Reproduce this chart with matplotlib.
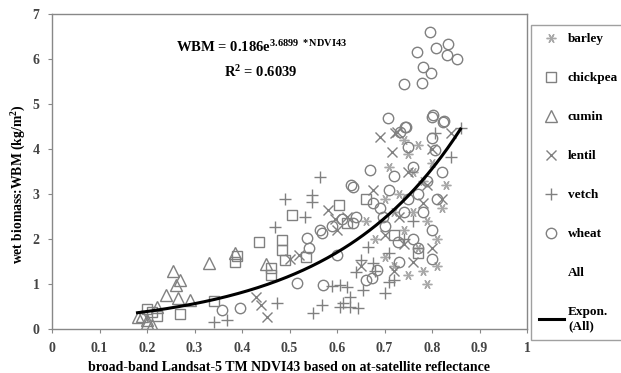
import numpy as np
import matplotlib
matplotlib.use("Agg")
import matplotlib.pyplot as plt
from matplotlib.lines import Line2D

plt.rcParams['font.family'] = ['Liberation Serif', 'DejaVu Serif']
plt.rcParams['font.weight'] = 'bold'
plt.rcParams['mathtext.fontset'] = 'custom'
plt.rcParams['mathtext.rm'] = 'Liberation Serif:bold'
plt.rcParams['mathtext.it'] = 'Liberation Serif:bold'
plt.rcParams['mathtext.bf'] = 'Liberation Serif:bold'

# ---- data ----
barley_x = [0.68, 0.70, 0.71, 0.72, 0.73, 0.74, 0.75, 0.75, 0.76, 0.77, 0.77, 0.78, 0.78,
            0.79, 0.80, 0.81, 0.82, 0.83, 0.72, 0.74, 0.76, 0.79, 0.81, 0.66, 0.70]
barley_y = [2.0, 1.6, 3.6, 1.4, 3.0, 2.2, 1.2, 3.9, 2.6, 1.8, 4.1, 3.3, 1.3,
            2.4, 3.7, 2.0, 2.7, 3.2, 2.6, 4.2, 3.5, 1.0, 1.4, 2.4, 2.9]

chickpea_x = [0.20, 0.21, 0.22, 0.27, 0.34, 0.385, 0.39, 0.435, 0.46, 0.46, 0.485, 0.485,
              0.49, 0.505, 0.535, 0.605, 0.62, 0.66, 0.72, 0.77]
chickpea_y = [0.45, 0.38, 0.30, 0.33, 0.62, 1.50, 1.62, 1.93, 1.20, 1.36, 1.98, 1.75,
              1.53, 2.53, 1.60, 2.75, 2.35, 2.90, 2.10, 1.70]

cumin_x = [0.18, 0.19, 0.20, 0.20, 0.21, 0.22, 0.24, 0.255, 0.26, 0.265, 0.27, 0.29, 0.33, 0.385, 0.45]
cumin_y = [0.27, 0.30, 0.13, 0.20, 0.08, 0.50, 0.75, 1.30, 0.98, 0.69, 1.10, 0.64, 1.46, 1.68, 1.45]

lentil_x = [0.43, 0.44, 0.452, 0.50, 0.52, 0.58, 0.595, 0.60, 0.62, 0.65, 0.676, 0.69, 0.716,
            0.722, 0.726, 0.73, 0.74, 0.75, 0.76, 0.78, 0.79, 0.80, 0.80, 0.82, 0.84, 0.70, 0.72]
lentil_y = [0.71, 0.53, 0.27, 1.55, 1.65, 2.65, 2.45, 2.20, 2.50, 1.40, 3.09, 4.27, 3.93,
            4.35, 4.38, 2.50, 1.90, 3.50, 1.50, 2.80, 3.20, 1.80, 4.00, 2.90, 4.35, 2.10, 1.30]

vetch_x = [0.34, 0.368, 0.47, 0.473, 0.49, 0.533, 0.547, 0.547, 0.564, 0.549, 0.568, 0.59,
           0.606, 0.606, 0.627, 0.627, 0.613, 0.645, 0.64, 0.65, 0.655, 0.665, 0.676, 0.68,
           0.71, 0.71, 0.72, 0.62, 0.70, 0.806, 0.84, 0.86, 0.74, 0.76]
vetch_y = [0.15, 0.20, 2.27, 0.57, 2.90, 2.50, 2.97, 2.83, 3.38, 0.35, 0.53, 0.96,
           0.98, 0.49, 0.49, 0.71, 0.58, 0.47, 1.27, 1.53, 0.87, 1.82, 1.47, 1.30,
           1.04, 1.69, 1.09, 0.93, 0.80, 4.35, 3.82, 4.47, 2.00, 2.40]

wheat_x = [0.796, 0.768, 0.808, 0.834, 0.832, 0.853, 0.78, 0.797, 0.741, 0.779, 0.80, 0.825, 0.743,
           0.802, 0.823,
           0.357, 0.395, 0.515, 0.537, 0.54, 0.564, 0.568, 0.57, 0.59, 0.60, 0.61, 0.63, 0.634,
           0.634, 0.64, 0.66, 0.67, 0.674, 0.676, 0.684, 0.697, 0.70, 0.708, 0.72, 0.728, 0.733,
           0.74, 0.745, 0.75, 0.76, 0.77, 0.78, 0.79, 0.80, 0.80, 0.806, 0.81, 0.82, 0.76, 0.75,
           0.73, 0.71, 0.69, 0.77, 0.80]
wheat_y = [6.60, 6.16, 6.24, 6.33, 6.09, 6.00, 5.82, 5.69, 5.44, 5.47, 4.72, 4.62, 4.49,
           4.76, 4.60,
           0.42, 0.47, 1.02, 2.02, 1.80, 2.20, 2.13, 0.98, 2.30, 1.64, 2.45, 3.20, 3.16,
           2.36, 2.50, 1.09, 3.53, 1.13, 2.80, 1.31, 2.49, 2.30, 4.69, 3.40, 1.93, 4.38,
           2.60, 4.48, 4.05, 3.60, 3.00, 2.60, 3.30, 4.24, 2.20, 3.98, 2.90, 3.50, 2.00, 2.90,
           1.50, 3.10, 2.70, 1.80, 1.55]

fit_a = 0.186
fit_b = 3.6899
fit_xmin, fit_xmax = 0.18, 0.86

x_ticks = [0, 0.1, 0.2, 0.3, 0.4, 0.5, 0.6, 0.7, 0.8, 0.9, 1]
x_tick_labels = ['0', '0.1', '0.2', '0.3', '0.4', '0.5', '0.6', '0.7', '0.8', '0.9', '1']
y_ticks = [0, 1, 2, 3, 4, 5, 6, 7]

# ---- figure ----
fig = plt.figure(figsize=(6.21, 3.73), dpi=100)
ax = fig.add_axes([52/621, 1-329/373, 475/621, 315/373])

grey = '#808080'
mk = dict(linestyle='none', markerfacecolor='none', markeredgewidth=1.0)
h_barley, = ax.plot(barley_x, barley_y, marker=(6, 2, 90), color='#a8a8a8', markersize=7, **mk)
h_chick, = ax.plot(chickpea_x, chickpea_y, marker='s', color=grey, markersize=7.5, **mk)
h_cumin, = ax.plot(cumin_x, cumin_y, marker='^', color=grey, markersize=8, **mk)
h_lentil, = ax.plot(lentil_x, lentil_y, marker='x', color=grey, markersize=7, **mk)
h_vetch, = ax.plot(vetch_x, vetch_y, marker='+', color=grey, markersize=8, **mk)
h_wheat, = ax.plot(wheat_x, wheat_y, marker='o', color=grey, markersize=7.5, **mk)

xf = np.linspace(fit_xmin, fit_xmax, 200)
h_fit, = ax.plot(xf, fit_a*np.exp(fit_b*xf), color='black', linewidth=2.2)
h_all = Line2D([], [], linestyle='none', marker='none')

ax.set_xlim(0, 1)
ax.set_ylim(0, 7)
ax.set_xticks(x_ticks)
ax.set_xticklabels(x_tick_labels)
ax.set_yticks(y_ticks)
ax.tick_params(direction='out', length=3, color='#888888', labelsize=10, pad=6)
for lab in ax.get_xticklabels() + ax.get_yticklabels():
    lab.set_fontweight('bold')
    lab.set_color('#444444')
for s in ax.spines.values():
    s.set_color('#888888')
    s.set_linewidth(1.0)

ax.set_xlabel('broad-band Landsat-5 TM NDVI43 based on at-satellite reflectance',
              fontsize=10, fontweight='bold', labelpad=5)
ax.set_ylabel('wet biomass:WBM (kg/m$^{2}$)', fontsize=9.8, fontweight='bold', labelpad=8)
ax.yaxis.set_label_coords(-0.05, 0.46)

ax.text(0.26, 0.895, r'WBM = 0.186e$^{3.6899\ *NDVI43}$', transform=ax.transAxes,
        ha='left', va='center', fontsize=10.5, fontweight='bold')
ax.text(0.44, 0.815, r'R$^{2}$ = 0.6039', transform=ax.transAxes,
        ha='center', va='center', fontsize=10.5, fontweight='bold')

leg = fig.legend([h_barley, h_chick, h_cumin, h_lentil, h_vetch, h_wheat, h_all, h_fit],
                 ['barley', 'chickpea', 'cumin', 'lentil', 'vetch', 'wheat', 'All', 'Expon.\n(All)'],
                 loc='upper left', bbox_to_anchor=(531/621, 1-25/373),
                 frameon=True, fancybox=False, edgecolor='#888888', fontsize=9.5,
                 labelspacing=2.03, handlelength=1.9, handletextpad=0.3, borderpad=0.6,
                 borderaxespad=0)
leg.get_frame().set_linewidth(1.0)
for t in leg.get_texts():
    t.set_fontweight('bold')

fig.savefig('out.png', dpi=100)
